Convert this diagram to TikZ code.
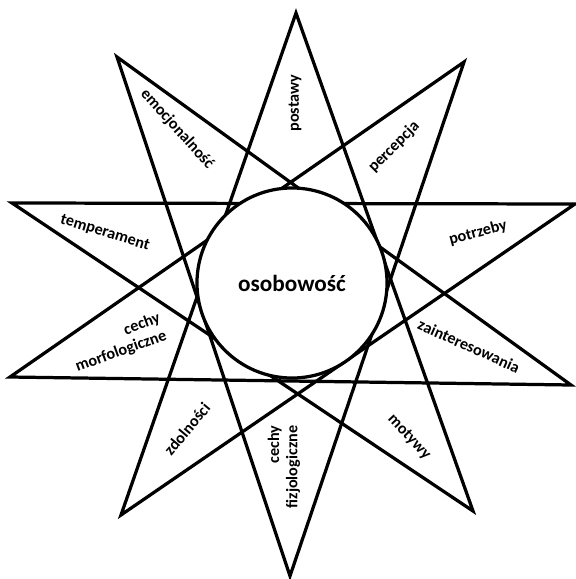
\documentclass[tikz,border=0pt]{standalone}
\usepackage{fontspec}
\setmainfont{Carlito}

\begin{document}
\begin{tikzpicture}[x=0.025cm, y=-0.025cm,
  star/.style={draw=black, line width=2.3pt, line join=miter},
  core/.style={circle, draw=black, fill=white, line width=2.3pt, minimum size=4.75cm, inner sep=0pt, font=\bfseries\fontsize{16.5}{18}\selectfont},
  lbl/.style={font=\bfseries\fontsize{11.5}{13}\selectfont, inner sep=1pt, align=center}]
  \useasboundingbox (0,0) rectangle (576,579);

  % tips of the two pentagrams
  \coordinate (t0) at (296,13);
  \coordinate (t1) at (464,62);
  \coordinate (t2) at (575,204);
  \coordinate (t3) at (571,385);
  \coordinate (t4) at (473,511);
  \coordinate (t5) at (290,576);
  \coordinate (t6) at (121,515);
  \coordinate (t7) at (10,377);
  \coordinate (t8) at (12,203);
  \coordinate (t9) at (117,57);

  \draw[star] (t0) -- (t4) -- (t8) -- (t2) -- (t6) -- cycle;
  \draw[star] (t1) -- (t5) -- (t9) -- (t3) -- (t7) -- cycle;

  \node[core] (osob) at (292,283) {osobowość};

  \node[lbl, rotate=90] (post) at (295,103) {postawy};
  \node[lbl, rotate=45] (perc) at (394,147) {percepcja};
  \node[lbl, rotate=15] (potr) at (478,233) {potrzeby};
  \node[lbl, rotate=-24] (zain) at (469,346) {zainteresowania};
  \node[lbl, rotate=-47] (moty) at (409,437) {motywy};
  \node[lbl, rotate=90, align=right] (fizj) at (284,467) {cechy\\fizjologiczne};
  \node[lbl, rotate=50] (zdol) at (187,429) {zdolności};
  \node[lbl, rotate=20, align=right] (morf) at (118,343) {cechy\\morfologiczne};
  \node[lbl, rotate=-17] (temp) at (105,233) {temperament};
  \node[lbl, rotate=-48] (emoc) at (177,129) {emocjonalność};
\end{tikzpicture}
\end{document}
